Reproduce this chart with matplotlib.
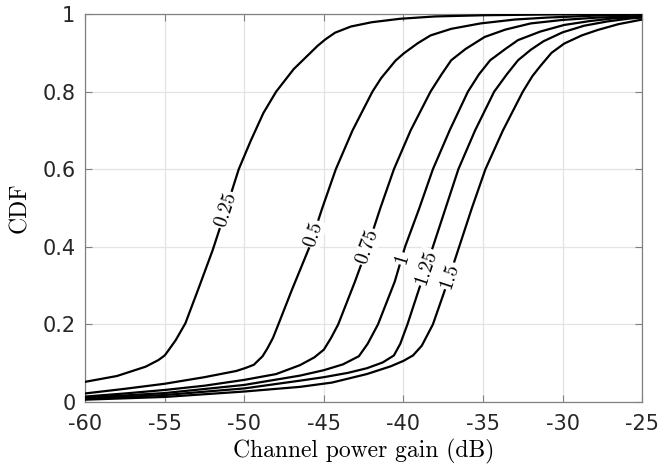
import numpy as np
import matplotlib
matplotlib.use('Agg')
import matplotlib.pyplot as plt

plt.rcParams['axes.unicode_minus'] = False

# curve labels (parameter value) and points: x in dB, y = CDF
labels = ['0.25', '0.5', '0.75', '1', '1.25', '1.5']

x_025 = [-60, -58, -56.2, -55.4, -55.0, -54.75, -54.3, -53.7, -52.9, -52.0, -51.2, -50.35, -49.6,
         -48.8, -48.0, -46.9, -46.1, -45.4, -44.9, -44.3, -43.3, -42.0, -40.2, -38, -35, -31, -25]
y_025 = [0.052, 0.067, 0.091, 0.108, 0.12, 0.134, 0.16, 0.203, 0.29, 0.39, 0.49, 0.6, 0.673,
         0.745, 0.80, 0.858, 0.89, 0.918, 0.935, 0.952, 0.968, 0.979, 0.988, 0.994, 0.997, 0.999, 1.0]

x_05 = [-60, -57.5, -55, -52.5, -50.5, -49.9, -49.4, -48.85, -48.55, -48.2, -47.86, -47.0, -45.9,
        -45.1, -44.25, -43.2, -41.95, -41.4, -40.5, -39.97, -39.1, -38.3, -37.0, -35.15, -33,
        -31, -28, -25]
y_05 = [0.022, 0.034, 0.047, 0.064, 0.08, 0.088, 0.096, 0.118, 0.138, 0.165, 0.2, 0.29, 0.40,
        0.5, 0.6, 0.70, 0.8, 0.835, 0.88, 0.899, 0.925, 0.945, 0.962, 0.976, 0.986,
        0.991, 0.996, 0.999]

x_075 = [-60, -57.5, -55, -52.5, -50, -48, -46.5, -45.6, -45.0, -44.55, -44.1, -43.05, -42.25,
         -41.45, -40.6, -39.55, -38.3, -37.6, -37.0, -36.1, -34.9, -33.6, -32.0, -30, -27.8, -25]
y_075 = [0.014, 0.022, 0.031, 0.042, 0.057, 0.072, 0.095, 0.115, 0.135, 0.165, 0.2, 0.31, 0.40,
         0.5, 0.6, 0.7, 0.8, 0.845, 0.881, 0.91, 0.941, 0.96, 0.976, 0.985, 0.991, 0.995]

x_1 = [-60, -55, -50, -46.5, -45, -43.8, -42.8, -42.25, -41.6, -40.55, -39.9, -39.0, -38.15,
       -37.1, -35.95, -35.25, -34.55, -33.6, -32.8, -31.4, -29.9, -28.3, -26.8, -25]
y_1 = [0.011, 0.023, 0.044, 0.068, 0.082, 0.097, 0.118, 0.15, 0.2, 0.31, 0.40, 0.5, 0.6,
       0.7, 0.8, 0.845, 0.881, 0.91, 0.933, 0.955, 0.972, 0.982, 0.989, 0.993]

x_125 = [-60, -55, -50, -46.5, -45, -43.5, -42.3, -41.3, -40.6, -40.2, -39.75, -38.95, -38.15,
         -37.35, -36.55, -35.5, -34.3, -33.5, -32.8, -32.0, -31.2, -30.0, -28.65, -27.2, -25.7, -25]
y_125 = [0.008, 0.018, 0.035, 0.055, 0.064, 0.075, 0.087, 0.102, 0.12, 0.15, 0.2, 0.3, 0.4,
         0.5, 0.6, 0.7, 0.8, 0.845, 0.881, 0.908, 0.93, 0.953, 0.97, 0.981, 0.989, 0.991]

x_15 = [-60, -55, -50, -46.5, -44.5, -42.3, -40.8, -40.0, -39.4, -38.85, -38.15, -37.3, -36.5,
        -35.7, -34.85, -33.75, -32.5, -31.9, -31.4, -30.7, -29.9, -28.8, -27.8, -26.5, -25]
y_15 = [0.006, 0.013, 0.027, 0.039, 0.05, 0.072, 0.092, 0.106, 0.12, 0.145, 0.2, 0.3, 0.4,
        0.5, 0.6, 0.7, 0.8, 0.84, 0.866, 0.9, 0.924, 0.945, 0.959, 0.974, 0.986]

# cdf level where each inline label sits
label_y = [0.495, 0.433, 0.40, 0.37, 0.347, 0.325]

curves = [(x_025, y_025), (x_05, y_05), (x_075, y_075), (x_1, y_1), (x_125, y_125), (x_15, y_15)]

fig = plt.figure(figsize=(6.6, 4.7), dpi=100)
ax = fig.add_axes([0.129, 0.1447, 0.844, 0.8253])

for (xs, ys), lab, ly in zip(curves, labels, label_y):
    ax.plot(xs, ys, color='k', lw=1.6, solid_joinstyle='round', zorder=3)
    lx = np.interp(ly, ys, xs)
    dx = np.interp(ly + 0.03, ys, xs) - np.interp(ly - 0.03, ys, xs)
    ang = np.degrees(np.arctan2(0.06, dx))
    ax.text(lx, ly, lab, rotation=ang, transform_rotates_text=True,
            rotation_mode='anchor', ha='center', va='center',
            fontsize=14.5, family='cmr10', zorder=4,
            bbox=dict(facecolor='white', edgecolor='none', pad=0.8))

ax.set_xlim(-60, -25)
ax.set_ylim(0, 1)
ax.set_xticks(np.arange(-60, -24, 5))
ax.set_yticks([0, 0.2, 0.4, 0.6, 0.8, 1])
ax.set_yticklabels(['0', '0.2', '0.4', '0.6', '0.8', '1'])
ax.grid(True, color='#e3e3e3', lw=0.9, zorder=0)
ax.set_axisbelow(True)
ax.tick_params(direction='in', length=5, width=0.8, colors='#808080', labelcolor='#262626',
               labelsize=15, top=True, right=True)
ax.tick_params(axis='x', pad=9)
ax.tick_params(axis='y', pad=7)
for s in ax.spines.values():
    s.set_color('#808080')
    s.set_linewidth(0.9)

ax.set_xlabel('Channel power gain (dB)', family='cmr10', fontsize=17, labelpad=3)
ax.set_ylabel('CDF', family='cmr10', fontsize=17, labelpad=8)

plt.savefig('out.png', dpi=100)
